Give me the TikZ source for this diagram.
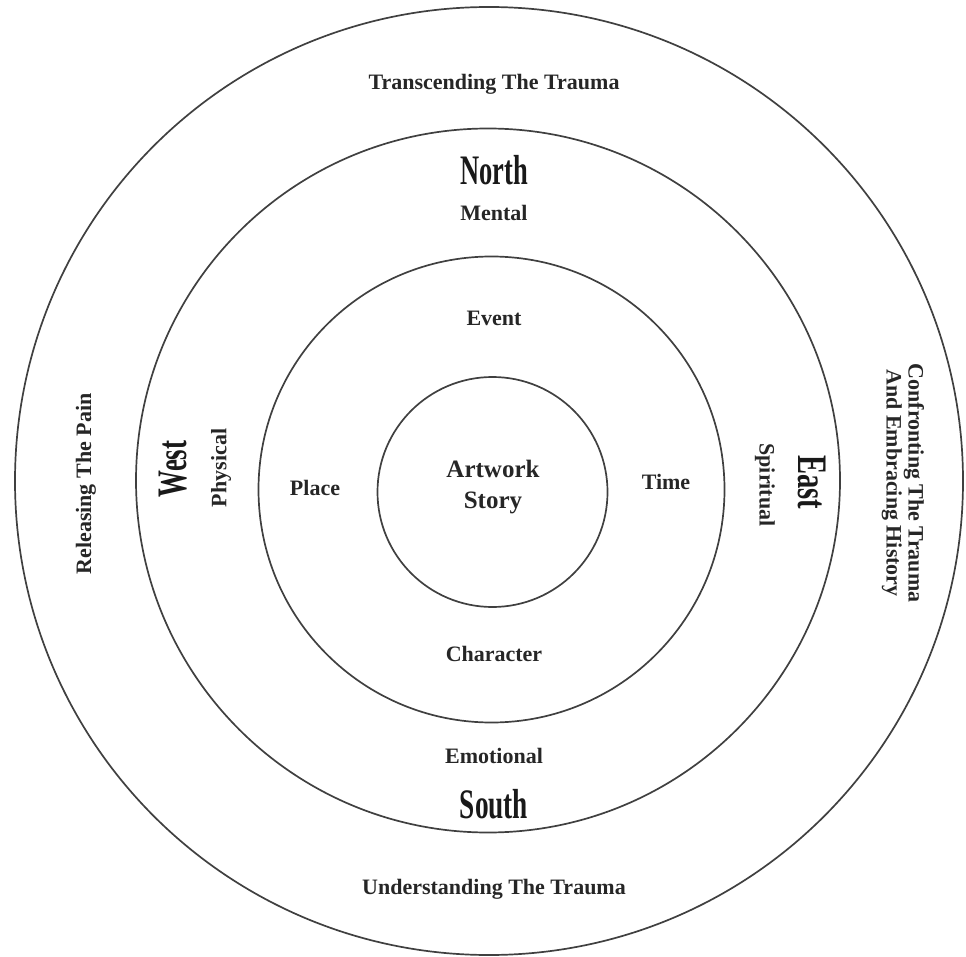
\documentclass[tikz,border=0pt]{standalone}
\usepackage{fontspec}
\setmainfont{Liberation Serif}
\begin{document}
\begin{tikzpicture}[x=1pt,y=-1pt,
  ring/.style={circle,draw=black!75,line width=1.7pt,inner sep=0pt},
  lbl/.style={font=\fontsize{22}{22}\selectfont\bfseries,text=black!85,inner sep=0pt,align=center},
  big/.style={font=\fontsize{42}{42}\selectfont\bfseries,text=black!90,inner sep=0pt},
  core/.style={font=\fontsize{25}{31}\selectfont\bfseries,text=black!85,inner sep=0pt,align=center}]
\useasboundingbox (0,0) rectangle (966,957);
% circles
\node[ring,minimum size=948pt] (outer) at (489,481) {};
\node[ring,minimum size=704pt] (dirs) at (488,480.5) {};
\node[ring,minimum size=466pt] (elems) at (491.5,489.5) {};
\node[ring,minimum size=230pt] (core) at (492.5,492) {};
% outer ring labels
\node[lbl] (top) at (494,84) {Transcending The Trauma};
\node[lbl] (bottom) at (494,889) {Understanding The Trauma};
\node[lbl,rotate=90] (left) at (86,484) {Releasing The Pain};
\node[lbl,rotate=-90] (right) at (903,483) {Confronting The Trauma\\And Embracing History};
% directions
\node[big] (north) at (494,170) {\scalebox{0.63}[1]{North}};
\node[big] (south) at (494,804) {\scalebox{0.65}[1]{South}};
\node[big,rotate=90] (west) at (173,469) {\scalebox{0.64}[1]{West}};
\node[big,rotate=-90] (east) at (812,482) {\scalebox{0.68}[1]{East}};
\node[lbl] (mental) at (494,213) {Mental};
\node[lbl] (emotional) at (494,756) {Emotional};
\node[lbl,rotate=90] (physical) at (221,468) {Physical};
\node[lbl,rotate=-90] (spiritual) at (765,485) {Spiritual};
% elements
\node[lbl] (event) at (494,318) {Event};
\node[lbl] (character) at (494,654) {Character};
\node[lbl] (place) at (315,488) {Place};
\node[lbl] (time) at (666,482) {Time};
% core
\node[core] (story) at (493,487) {Artwork\\Story};
\end{tikzpicture}
\end{document}
